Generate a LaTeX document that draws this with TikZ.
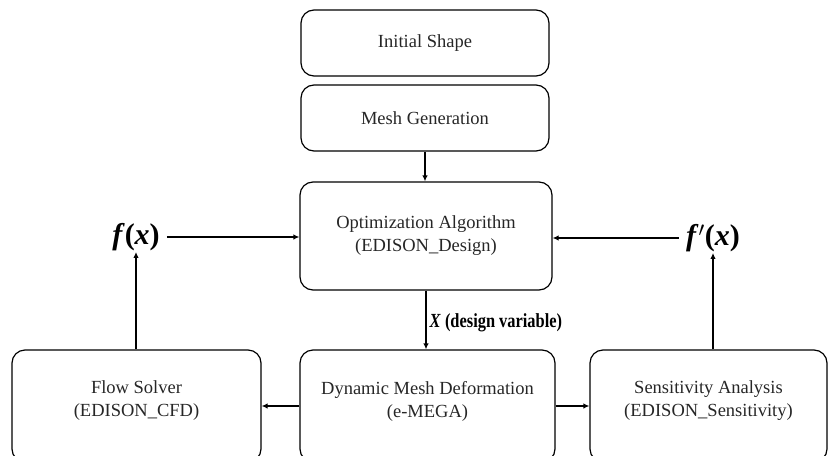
\documentclass[tikz,border=0pt]{standalone}
\usepackage{fontspec}
\setmainfont{Liberation Serif}
\newfontfamily\condfont[FakeStretch=0.82]{Liberation Serif}
\usetikzlibrary{arrows.meta}
\tikzset{
  box/.style={draw=black, line width=1.2pt, rounded corners=13pt, align=center,
    text=black!85, font=\fontsize{18.5}{23}\selectfont, inner sep=0pt},
  btext/.style={align=center, text=black!85, font=\fontsize{18.5}{23}\selectfont},
  conn/.style={line width=1.3pt, -{Latex[length=6pt,width=5.5pt]}},
  func/.style={font=\fontsize{30}{32}\selectfont\bfseries\itshape, inner sep=1pt},
  lab/.style={font=\fontsize{20}{22}\selectfont\condfont\bfseries, inner sep=0pt}
}
\begin{document}
\begin{tikzpicture}[x=1pt,y=-1pt]
\useasboundingbox (0,0) rectangle (829,455);
\clip (0,0) rectangle (829,455);
\node[box, minimum width=248pt, minimum height=66pt] (init) at (425,43) {Initial Shape};
\node[box, minimum width=248pt, minimum height=66pt] (mesh) at (425,118) {Mesh Generation};
\node[box, minimum width=252pt, minimum height=108pt] (opt) at (426,236) {Optimization Algorithm\\(EDISON\_Design)};
\node[box, minimum width=249pt, minimum height=112pt] (flow) at (136.5,406) {};
\node[box, minimum width=255pt, minimum height=112pt] (dyn) at (427.5,406) {};
\node[box, minimum width=237pt, minimum height=112pt] (sens) at (708.5,406) {};
\node[btext] (flowt) at (136.5,401) {Flow Solver\\(EDISON\_CFD)};
\node[btext] (dynt) at (427.5,401) {Dynamic Mesh Deformation\\(e-MEGA)};
\node[btext] (senst) at (708.5,401) {Sensitivity Analysis\\(EDISON\_Sensitivity)};
\node[func] (fx) at (136,237) {f\textup{(}x\textup{)}};
\node[func] (fpx) at (713,238) {f\textup{$'$}\textup{(}x\textup{)}};
\draw[conn] (mesh.south) -- (mesh.south |- opt.north);
\draw[conn] (fx.east) ++(6,0) coordinate (fxe) -- (fxe -| opt.west);
\draw[conn] (fpx.west) ++(-6,0) coordinate (fpw) -- (fpw -| opt.east);
\draw[conn] (flow.north -| fx.south) -- (fx.south);
\draw[conn] (sens.north -| fpx.south) -- (fpx.south);
\draw[conn] (opt.south) -- node[lab, anchor=west, xshift=3pt, yshift=-3pt] (xlab) {\textit{X} (design variable)} (opt.south |- dyn.north);
\draw[conn] (dyn.west) -- (flow.east);
\draw[conn] (dyn.east) -- (sens.west);
\end{tikzpicture}
\end{document}
